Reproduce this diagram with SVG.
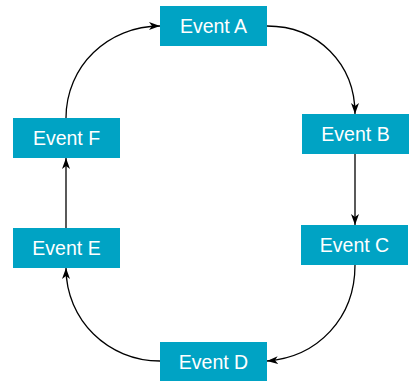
<svg xmlns="http://www.w3.org/2000/svg" width="410" height="381" viewBox="0 0 410 381">
<style>
.box{fill:#00a3c4}
.lbl{fill:#fff;font-family:"Liberation Sans",Arial,sans-serif;font-size:19.5px;text-anchor:middle}
.c{fill:none;stroke:#000;stroke-width:1.3;marker-end:url(#ah)}
</style>
<defs>
<marker id="ah" viewBox="0 0 11 8" refX="11" refY="4" markerWidth="11" markerHeight="8" markerUnits="userSpaceOnUse" orient="auto">
<path d="M0,0 L11,4 L0,8 L3,4 Z" fill="#000"/>
</marker>
</defs>
<g id="connectors">
<path class="c" d="M267,26 C318,26 355,64 355,114"/>
<path class="c" d="M355,154 L355,225"/>
<path class="c" d="M355,265 C355,318 318,357 267,361"/>
<path class="c" d="M160,361 C108,361 66,320 66,268"/>
<path class="c" d="M66,228 L66,158"/>
<path class="c" d="M66,118 C66,66 108,26 160,26"/>
</g>
<g id="A"><rect class="box" x="160" y="6" width="107" height="40"/><text class="lbl" x="213.5" y="33">Event A</text></g>
<g id="B"><rect class="box" x="302" y="114" width="107" height="40"/><text class="lbl" x="355.5" y="141">Event B</text></g>
<g id="C"><rect class="box" x="301" y="225" width="107" height="40"/><text class="lbl" x="354.5" y="252">Event C</text></g>
<g id="D"><rect class="box" x="160" y="342" width="107" height="39"/><text class="lbl" x="213.5" y="369">Event D</text></g>
<g id="E"><rect class="box" x="13" y="228" width="107" height="40"/><text class="lbl" x="66.5" y="255">Event E</text></g>
<g id="F"><rect class="box" x="13" y="118" width="107" height="40"/><text class="lbl" x="66.5" y="145">Event F</text></g>
</svg>
